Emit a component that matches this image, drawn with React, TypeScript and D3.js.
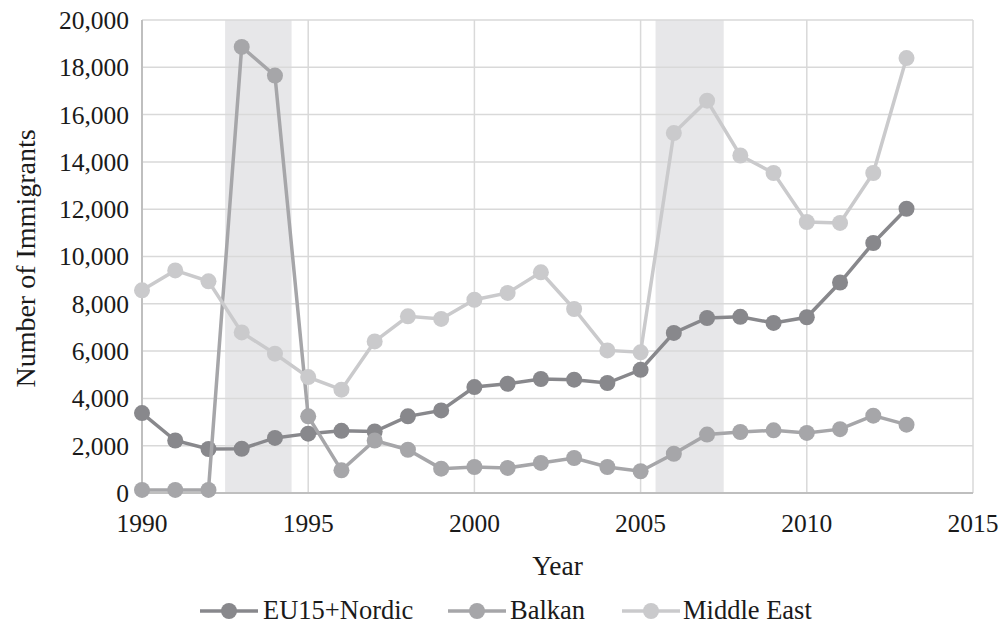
import React from "react";
import * as d3 from "d3";

const years = [
  1990, 1991, 1992, 1993, 1994, 1995, 1996, 1997, 1998, 1999, 2000, 2001,
  2002, 2003, 2004, 2005, 2006, 2007, 2008, 2009, 2010, 2011, 2012, 2013,
];
const euNordic = [
  3380, 2220, 1860, 1870, 2330, 2510, 2630, 2600, 3240, 3490, 4480, 4620,
  4820, 4790, 4650, 5210, 6770, 7400, 7450, 7190, 7430, 8900, 10570, 12020,
];
const balkan = [
  130, 130, 130, 18860, 17650, 3240, 960, 2220, 1830, 1030, 1100, 1060,
  1270, 1480, 1100, 920, 1660, 2470, 2580, 2650, 2540, 2700, 3270, 2890,
];
const middleEast = [
  8570, 9410, 8950, 6790, 5890, 4900, 4370, 6410, 7470, 7360, 8170, 8460,
  9330, 7780, 6030, 5950, 15220, 16590, 14270, 13530, 11460, 11420, 13530, 18390,
];
const xTicks = [1990, 1995, 2000, 2005, 2010, 2015];
const yTicks = [0, 2000, 4000, 6000, 8000, 10000, 12000, 14000, 16000, 18000, 20000];
// shaded periods (start year, end year)
const bands = [
  [1992.5, 1994.5],
  [2005.45, 2007.5],
];

const series = [
  { name: "EU15+Nordic", values: euNordic, color: "#88888c" },
  { name: "Balkan", values: balkan, color: "#a6a6a9" },
  { name: "Middle East", values: middleEast, color: "#cacacc" },
];

const width = 1000;
const height = 627;
const margin = { top: 20, right: 27, bottom: 134, left: 142 };
const font = "'Liberation Serif', 'Times New Roman', serif";

const App = () => {
  const x = d3
    .scaleLinear()
    .domain([1990, 2015])
    .range([margin.left, width - margin.right]);
  const y = d3
    .scaleLinear()
    .domain([0, 20000])
    .range([height - margin.bottom, margin.top]);
  const fmt = d3.format(",");

  const line = d3
    .line<number>()
    .x((_, i) => x(years[i]))
    .y((d) => y(d));

  const legendPos = [
    { lx: 200, tx: 263 },
    { lx: 448, tx: 510 },
    { lx: 622, tx: 683 },
  ];

  return (
    <div style={{ position: "absolute", left: 0, top: 0 }}>
      <svg width={width} height={height} style={{ display: "block", background: "#fff" }}>
        {/* shaded periods */}
        {bands.map((b, i) => (
          <rect
            key={"b" + i}
            x={x(b[0])}
            y={y(20000)}
            width={x(b[1]) - x(b[0])}
            height={y(0) - y(20000)}
            fill="#e7e7e9"
          />
        ))}

        {/* grid */}
        {yTicks.map((t) => (
          <line
            key={"gy" + t}
            x1={x(1990)}
            x2={x(2015)}
            y1={y(t)}
            y2={y(t)}
            stroke="#d9d9d9"
            strokeWidth={1.5}
          />
        ))}
        {xTicks.map((t) => (
          <line
            key={"gx" + t}
            x1={x(t)}
            x2={x(t)}
            y1={y(0)}
            y2={y(20000)}
            stroke="#d9d9d9"
            strokeWidth={1.5}
          />
        ))}

        {/* axes */}
        <line x1={x(1990)} x2={x(1990)} y1={y(0)} y2={y(20000)} stroke="#bfbfbf" strokeWidth={2} />
        <line x1={x(1990)} x2={x(2015)} y1={y(0)} y2={y(0)} stroke="#bfbfbf" strokeWidth={2} />

        {/* tick labels */}
        {yTicks.map((t) => (
          <text
            key={"ty" + t}
            x={margin.left - 13}
            y={y(t)}
            dy="0.35em"
            textAnchor="end"
            fontFamily={font}
            fontSize={25.5}
            fill="#1a1a1a"
          >
            {fmt(t)}
          </text>
        ))}
        {xTicks.map((t) => (
          <text
            key={"tx" + t}
            x={x(t)}
            y={532}
            textAnchor="middle"
            fontFamily={font}
            fontSize={25.5}
            fill="#1a1a1a"
          >
            {t}
          </text>
        ))}

        {/* axis titles */}
        <text
          x={(x(1990) + x(2015)) / 2}
          y={575}
          textAnchor="middle"
          fontFamily={font}
          fontSize={27.5}
          fill="#1a1a1a"
        >
          Year
        </text>
        <text
          transform={`translate(35,${(y(0) + y(20000)) / 2 + 2}) rotate(-90)`}
          textAnchor="middle"
          fontFamily={font}
          fontSize={28}
          fill="#1a1a1a"
        >
          Number of Immigrants
        </text>

        {/* series */}
        {series.map((s) => (
          <g key={s.name}>
            <path d={line(s.values) || ""} fill="none" stroke={s.color} strokeWidth={3.5} />
            {s.values.map((v, i) => (
              <circle key={i} cx={x(years[i])} cy={y(v)} r={8} fill={s.color} />
            ))}
          </g>
        ))}

        {/* legend */}
        {series.map((s, i) => (
          <g key={"l" + s.name}>
            <line
              x1={legendPos[i].lx}
              x2={legendPos[i].lx + 58}
              y1={611}
              y2={611}
              stroke={s.color}
              strokeWidth={3.5}
            />
            <circle cx={legendPos[i].lx + 29} cy={611} r={8} fill={s.color} />
            <text x={legendPos[i].tx} y={619} fontFamily={font} fontSize={26.5} fill="#1a1a1a">
              {s.name}
            </text>
          </g>
        ))}
      </svg>
    </div>
  );
};

export default App;
